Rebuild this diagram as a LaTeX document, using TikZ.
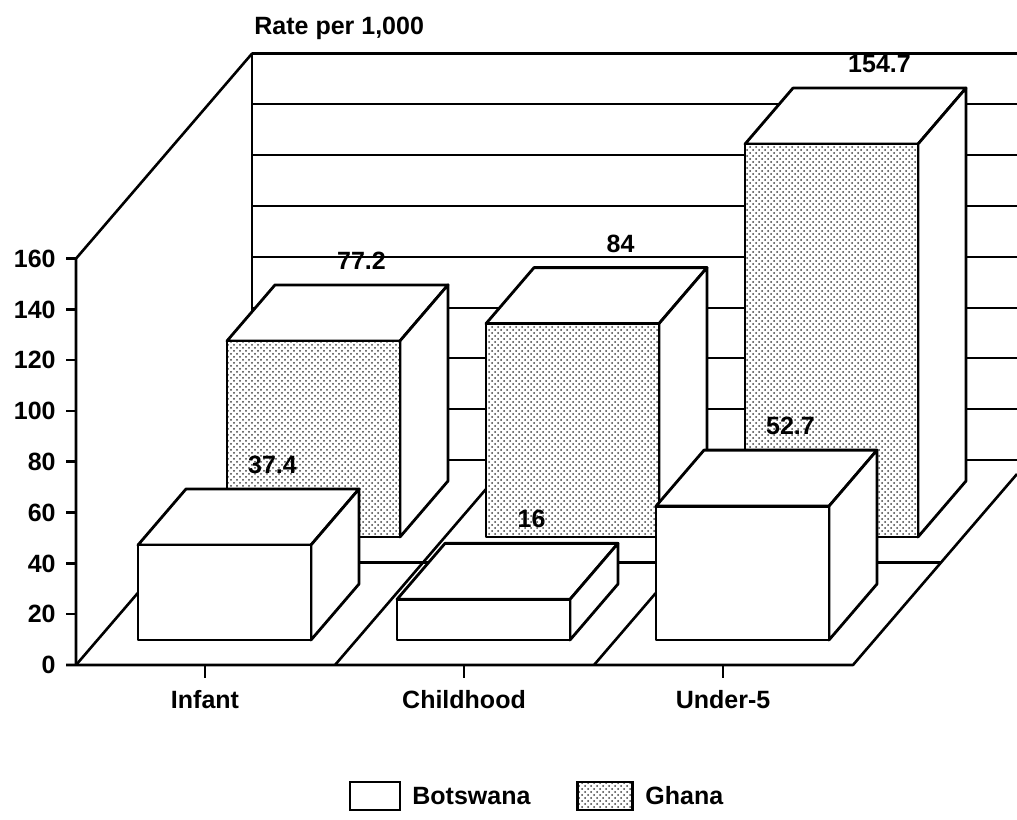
\documentclass[tikz,border=0pt]{standalone}
\usepackage{fontspec}
\setmainfont{Liberation Sans}
\usetikzlibrary{patterns}

\tikzset{
	axisline/.style={line width=1.3pt, line join=round},
	gridline/.style={line width=1pt},
	barline/.style={line width=1.4pt, line join=round, fill=white},
	ghanaface/.style={preaction={fill=white}, pattern=crosshatch dots, pattern color=black!75},
	chartlabel/.style={font=\fontsize{12.5}{14}\selectfont\bfseries, inner sep=1pt},
}

% one 3D bar: x, base y, value, front face style, label name
\newcommand{\rateBar}[5]{%
	\pgfmathsetmacro{\barH}{#3*\vs}
	\draw[barline] (#1,{#2+\barH}) -- ++(48,56) -- ++(173,0) -- ++(-48,-56) -- cycle;
	\draw[barline] ({#1+173},#2) -- ++(48,56) -- ++(0,\barH) -- ++(-48,-56) -- cycle;
	\draw[barline, #4] (#1,#2) rectangle ++(173,\barH);
	\node[chartlabel] (#5) at ({#1+134.5},{#2+\barH+80}) {#3};
}

\begin{document}
\begin{tikzpicture}[x=0.5pt,y=0.5pt]
	\def\vs{2.54} % length of one unit
	\useasboundingbox (0,0) rectangle (1017,819);
	
	% Back wall and its grid
	\foreach \v in {0,20,...,140} {
		\draw[gridline] (252,{359+\v*\vs}) -- (1017,{359+\v*\vs});
	}
	\draw[axisline] (1017,765.4) -- (252,765.4) -- (252,359);
	
	% Side wall and value axis
	\draw[axisline] (252,765.4) -- (76,560.4) -- (76,154);
	\foreach \v in {0,20,...,160} {
		\draw[axisline] (66,{154+\v*\vs}) -- (76,{154+\v*\vs});
		\node[chartlabel, anchor=east] (tick\v) at (58,{154+\v*\vs}) {\v};
	}
	\node[chartlabel, anchor=west] (unit) at (252,791) {Rate per 1,000};
	
	% Floor
	\draw[axisline] (66,154) -- (853,154) -- (1017,345);
	\draw[axisline] (76,154) -- (252,359);
	\draw[axisline] (335,154) -- ++(176,205);
	\draw[axisline] (594,154) -- ++(176,205);
	\draw[axisline] (164,256.5) -- (941,256.5);
	
	% Ghana, back row
	\rateBar{227}{282}{77.2}{ghanaface}{valGhInf}
	\rateBar{486}{282}{84}{ghanaface}{valGhChd}
	\rateBar{745}{282}{154.7}{ghanaface}{valGhUnd}
	
	% Botswana, front row
	\rateBar{138}{179}{37.4}{}{valBoInf}
	\rateBar{397}{179}{16}{}{valBoChd}
	\rateBar{656}{179}{52.7}{}{valBoUnd}
	
	% Categories
	\foreach \c/\nm/\txt in {205/catInf/Infant, 464/catChd/Childhood, 723/catUnd/Under-5} {
		\draw[axisline] (\c,154) -- (\c,141);
		\node[chartlabel] (\nm) at (\c,119) {\txt};
	}
	
	% Legend
	\node[draw, line width=1.3pt, minimum width=25pt, minimum height=14pt, inner sep=0] (keyBots) at (375,23) {};
	\node[chartlabel, anchor=west] (lblBots) at (410,23) {Botswana};
	\node[draw, line width=1.3pt, ghanaface, minimum width=27.5pt, minimum height=14pt, inner sep=0] (keyGhana) at (605,23) {};
	\node[chartlabel, anchor=west] (lblGhana) at (643,23) {Ghana};
\end{tikzpicture}
\end{document}
